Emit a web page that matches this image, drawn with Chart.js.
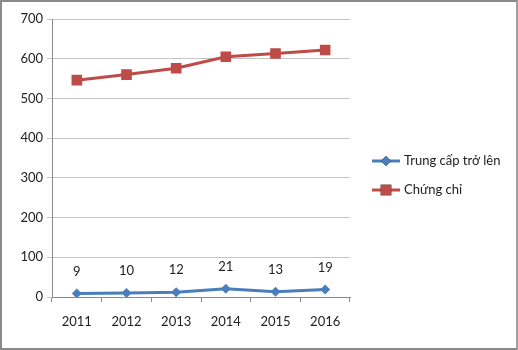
<!DOCTYPE html>
<html>
<head>
<meta charset="utf-8">
<script src="https://cdn.jsdelivr.net/npm/chart.js@4"></script>
<style>
  html, body { margin: 0; padding: 0; background: #fff; }
  #wrap { position: relative; width: 518px; height: 350px; }
  #frame { position: absolute; left: 0; top: 0; width: 518px; height: 350px; box-sizing: border-box;
           border: 2px solid #8a8a8a; border-right-color: #a0a0a0; pointer-events: none; }
</style>
</head>
<body>
<div id="wrap">
  <canvas id="chart" width="518" height="350"></canvas>
  <div id="frame"></div>
</div>
<script>
// values
const years = ['2011', '2012', '2013', '2014', '2015', '2016'];
const trungCap = [9, 10, 12, 21, 13, 19];
const chungChi = [546, 560, 576, 605, 613, 622];
const seriesNames = ['Trung cấp trở lên', 'Chứng chỉ'];
const yTicks = [0, 100, 200, 300, 400, 500, 600, 700];

const BLUE = '#4a7ebb';
const RED = '#be4b48';
const FONT = 'Lato, "Open Sans", sans-serif';

// numbers over the blue line
const valueLabels = {
    id: 'valueLabels',
    afterDatasetsDraw(chart) {
        const ctx = chart.ctx;
        const meta = chart.getDatasetMeta(0);
        ctx.save();
        ctx.font = '13px ' + FONT;
        ctx.fillStyle = '#222';
        ctx.textAlign = 'center';
        ctx.textBaseline = 'middle';
        meta.data.forEach((pt, i) => {
            ctx.fillText(String(trungCap[i]), pt.x, pt.y - 22);
        });
        ctx.restore();
    }
};

// legend drawn like the office one: line with marker in the middle
const sideLegend = {
    id: 'sideLegend',
    afterDraw(chart) {
        const ctx = chart.ctx;
        const rows = [
            { y: 161, color: BLUE, style: 'rectRot', r: 5 },
            { y: 190, color: RED, style: 'rect', r: 7.5 }
        ];
        ctx.save();
        rows.forEach((row, i) => {
            ctx.strokeStyle = row.color;
            ctx.lineWidth = 3;
            ctx.beginPath();
            ctx.moveTo(372, row.y);
            ctx.lineTo(400, row.y);
            ctx.stroke();
            Chart.helpers.drawPoint(ctx, { pointStyle: row.style, radius: row.r, borderWidth: 0 }, 386, row.y);
            ctx.fillStyle = row.color;
            ctx.fill();
            ctx.fillStyle = '#222';
            ctx.font = '13px ' + FONT;
            ctx.textBaseline = 'middle';
            ctx.textAlign = 'left';
            ctx.fillText(seriesNames[i], 404, row.y);
        });
        ctx.restore();
    }
};

new Chart(document.getElementById('chart'), {
    type: 'line',
    data: {
        labels: years,
        datasets: [
            {
                label: seriesNames[0],
                data: trungCap,
                borderColor: BLUE,
                backgroundColor: BLUE,
                borderWidth: 3,
                pointStyle: 'rectRot',
                pointRadius: 5,
                pointBorderWidth: 0,
                tension: 0
            },
            {
                label: seriesNames[1],
                data: chungChi,
                borderColor: RED,
                backgroundColor: RED,
                borderWidth: 3,
                pointStyle: 'rect',
                pointRadius: 7.5,
                pointBorderWidth: 0,
                tension: 0
            }
        ]
    },
    options: {
        responsive: false,
        animation: false,
        layout: { padding: { left: 0, right: 168, top: 19, bottom: 0 } },
        plugins: {
            legend: { display: false },
            tooltip: { enabled: false }
        },
        scales: {
            x: {
                offset: true,
                grid: { drawOnChartArea: false, drawTicks: true, tickLength: 5, offset: true, color: '#888' },
                border: { color: '#888' },
                ticks: { color: '#222', font: { family: FONT, size: 13 }, padding: 12 },
                afterFit(scale) { scale.height = 53; }
            },
            y: {
                min: 0,
                max: 700,
                afterBuildTicks(scale) { scale.ticks = yTicks.map(v => ({ value: v })); },
                grid: { color: '#c4c4c4', tickLength: 5, drawTicks: true },
                border: { color: '#888' },
                ticks: { color: '#222', font: { family: FONT, size: 13 }, padding: 4 },
                afterFit(scale) { scale.width = 52; }
            }
        }
    },
    plugins: [valueLabels, sideLegend]
});
</script>
</body>
</html>
